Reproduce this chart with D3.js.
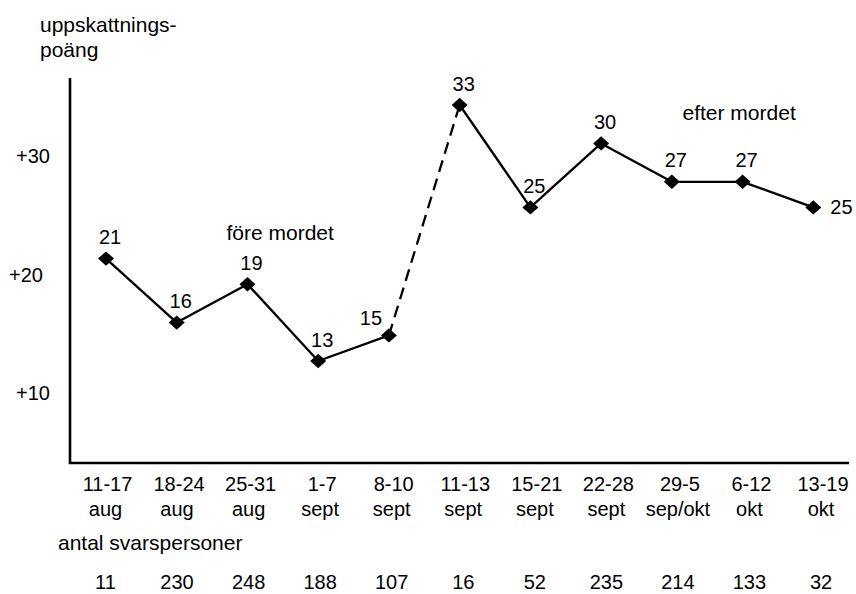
<!DOCTYPE html>
<html>
<head>
<meta charset="utf-8">
<script src="https://cdn.jsdelivr.net/npm/d3@7"></script>
<style>
  html, body { margin: 0; padding: 0; background: #fff; }
  svg { display: block; font-family: "Liberation Sans", Arial, sans-serif; }
</style>
</head>
<body>
<svg id="chart" width="856" height="594"></svg>
<script>
// ---- data ----
const periodsTop    = ["11-17", "18-24", "25-31", "1-7", "8-10", "11-13", "15-21", "22-28", "29-5", "6-12", "13-19"];
const periodsBottom = ["aug", "aug", "aug", "sept", "sept", "sept", "sept", "sept", "sep/okt", "okt", "okt"];
const scores        = [21, 16, 19, 13, 15, 33, 25, 30, 27, 27, 25];
const respondents   = [11, 230, 248, 188, 107, 16, 52, 235, 214, 133, 32];
const yTicks        = [10, 20, 30];
const dashedFrom    = 4;   // segment 8-10 sept -> 11-13 sept is dashed
const titleLines    = ["uppskattnings-", "poäng"];
const beforeLabel   = "före mordet";
const afterLabel    = "efter mordet";
const countsTitle   = "antal svarspersoner";

// ---- layout ----
const svg = d3.select("#chart");
const idx = d3.range(scores.length);

const x = d3.scalePoint().domain(idx).range([106, 813.3]);
const xLab = d3.scalePoint().domain(idx).range([107.5, 823]);
const y = d3.scaleLinear().domain([13, 33]).range([361, 105]);
const yAxisScale = d3.scaleLinear().domain([10, 30]).range([393, 156]);

const axisLeft = 70, axisTop = 78, axisBottom = 463, axisRight = 849;

// axes frame
svg.append("path")
  .attr("d", d3.line()([[axisLeft, axisTop], [axisLeft, axisBottom], [axisRight, axisBottom]]))
  .attr("fill", "none").attr("stroke", "#000").attr("stroke-width", 2.6);

// y tick labels
svg.append("g").selectAll("text").data(yTicks).join("text")
  .attr("x", d => d === 20 ? 43 : 50)
  .attr("y", d => yAxisScale(d))
  .attr("dy", "0.35em")
  .attr("text-anchor", "end")
  .attr("font-size", 20)
  .text(d => "+" + d);

// title
svg.append("g").selectAll("text").data(titleLines).join("text")
  .attr("x", 40)
  .attr("y", (d, i) => 31.5 + i * 25)
  .attr("font-size", 21)
  .text(d => d);

// line segments
const segs = d3.range(scores.length - 1);
svg.append("g").selectAll("line").data(segs).join("line")
  .attr("x1", i => x(i)).attr("y1", i => y(scores[i]))
  .attr("x2", i => x(i + 1)).attr("y2", i => y(scores[i + 1]))
  .attr("stroke", "#000").attr("stroke-width", 2.3)
  .attr("stroke-dasharray", i => i === dashedFrom ? "12,7" : null);

// diamond markers
const hw = 8, hh = 7.2;
const diamondPath = `M0,${-hh}L${hw},0L0,${hh}L${-hw},0Z`;
svg.append("g").selectAll("path").data(idx).join("path")
  .attr("d", diamondPath)
  .attr("transform", i => `translate(${x(i)},${y(scores[i])})`)
  .attr("fill", "#000");

// value labels
svg.append("g").selectAll("text").data(idx).join("text")
  .attr("font-size", 20)
  .attr("text-anchor", i => i === scores.length - 1 ? "start" : "middle")
  .attr("x", i => {
    if (i === dashedFrom) return x(i) - 18;
    if (i === scores.length - 1) return x(i) + 17;
    return x(i) + 4;
  })
  .attr("y", i => {
    if (i === dashedFrom) return y(scores[i]) - 10;
    if (i === scores.length - 1) return y(scores[i]) + 7;
    return y(scores[i]) - 14.5;
  })
  .text(i => scores[i]);

// annotations
svg.append("text").attr("x", 226.5).attr("y", 240).attr("font-size", 21).text(beforeLabel);
svg.append("text").attr("x", 682.5).attr("y", 120).attr("font-size", 21).text(afterLabel);

// category labels (two lines)
const cat = svg.append("g").attr("font-size", 20).attr("text-anchor", "middle");
cat.selectAll("text.top").data(idx).join("text").attr("class", "top")
  .attr("x", i => xLab(i)).attr("y", 490.5).text(i => periodsTop[i]);
cat.selectAll("text.bot").data(idx).join("text").attr("class", "bot")
  .attr("x", i => xLab(i) - 2).attr("y", 515.5).text(i => periodsBottom[i]);

// respondents
svg.append("text").attr("x", 58).attr("y", 550).attr("font-size", 21).text(countsTitle);
svg.append("g").attr("font-size", 20).attr("text-anchor", "middle")
  .selectAll("text").data(idx).join("text")
  .attr("x", i => xLab(i) - 2).attr("y", 589).text(i => respondents[i]);
</script>
</body>
</html>
